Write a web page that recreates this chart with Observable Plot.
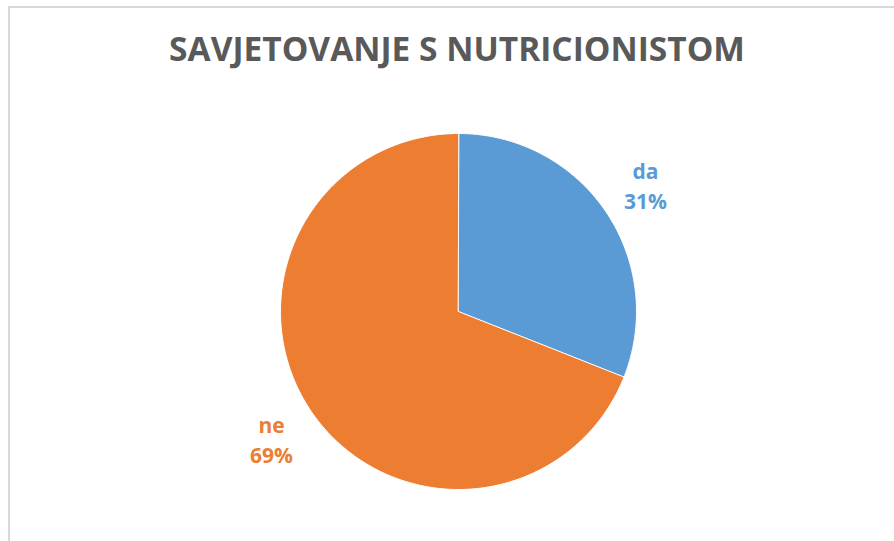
<!DOCTYPE html>
<html>
<head>
<meta charset="utf-8">
<script src="https://cdn.jsdelivr.net/npm/d3@7"></script>
<script src="https://cdn.jsdelivr.net/npm/@observablehq/plot@0.6"></script>
<style>
  html, body { margin: 0; padding: 0; background: #fff; }
  #wrap { position: relative; width: 894px; height: 541px; overflow: hidden; background: #fff; }
  #frame { position: absolute; left: 8px; top: 6px; width: 1000px; height: 1000px;
           border-left: 2px solid #d9d9d9; border-top: 2px solid #d9d9d9; }
  #title { position: absolute; left: 0; width: 914px; top: 32px; text-align: center;
           font-family: "Open Sans", sans-serif; font-weight: 700; font-size: 33.5px;
           line-height: 33.5px; color: #595959; white-space: nowrap; }
  #chart { position: absolute; left: 0; top: 0; }
</style>
</head>
<body>
<div id="wrap">
  <div id="frame"></div>
  <div id="title">SAVJETOVANJE S NUTRICIONISTOM</div>
  <div id="chart"></div>
</div>
<script>
const categories = ["da", "ne"];
const values = [31, 69];
const colors = ["#5b9bd5", "#ed7d31"];

const total = d3.sum(values);
const arcs = d3.pie().sort(null).value(d => d)(values);

// Build slice outlines in unit-circle coordinates (angle clockwise from 12 o'clock)
const slicePts = [];
const labels = [];
arcs.forEach((a, i) => {
  const cat = categories[i];
  slicePts.push({cat, x: 0, y: 0});
  const n = 200;
  for (let k = 0; k <= n; k++) {
    const t = a.startAngle + (a.endAngle - a.startAngle) * k / n;
    slicePts.push({cat, x: Math.sin(t), y: Math.cos(t)});
  }
  const mid = (a.startAngle + a.endAngle) / 2;
  const lr = 1.27;
  labels.push({cat, x: lr * Math.sin(mid), y: lr * Math.cos(mid),
               text: `${cat}\n${Math.round(values[i] / total * 100)}%`});
});

const cx = 458, cy = 311, r = 178, W = 894, H = 541;

const chart = Plot.plot({
  width: W,
  height: H,
  marginLeft: cx - r,
  marginRight: W - (cx + r),
  marginTop: cy - r,
  marginBottom: H - (cy + r),
  x: {domain: [-1, 1], axis: null},
  y: {domain: [-1, 1], axis: null},
  color: {domain: categories, range: colors},
  style: {background: "transparent", overflow: "visible"},
  marks: [
    Plot.line(slicePts, {x: "x", y: "y", z: "cat", fill: "cat", stroke: "white",
                         strokeWidth: 1, curve: "linear-closed"}),
    Plot.text(labels, {x: "x", y: "y", text: "text", fill: "cat",
                       fontFamily: "Open Sans, sans-serif", fontWeight: 700,
                       fontSize: 21, lineHeight: 1.4, clip: false})
  ]
});
document.getElementById("chart").appendChild(chart);
</script>
</body>
</html>
